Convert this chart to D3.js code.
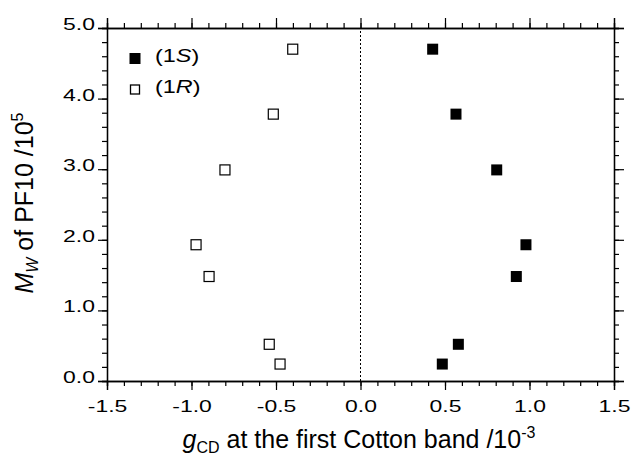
<!DOCTYPE html>
<html>
<head>
<meta charset="utf-8">
<script src="https://cdn.jsdelivr.net/npm/d3@7"></script>
<style>
  body { margin: 0; background: #fff; }
  text { font-family: "Liberation Sans", Arial, sans-serif; fill: #000; }
</style>
</head>
<body>
<div id="container"></div>
<script>
/* CONSTANTS AND GLOBALS */
const width = 632;
const height = 456;
const margin = { top: 28, right: 18, bottom: 75, left: 107 };
const stretch = 1.35; // tick labels in the figure are drawn wide

/* DATA */
const mwValues = [4.70, 3.78, 2.99, 1.93, 1.48, 0.52, 0.24];   // Mw /10^5
const gcdS = [0.427, 0.565, 0.806, 0.979, 0.922, 0.579, 0.484]; // (1S)
const gcdR = [-0.401, -0.516, -0.802, -0.973, -0.896, -0.540, -0.476]; // (1R)
const xTicks = [-1.5, -1.0, -0.5, 0.0, 0.5, 1.0, 1.5];
const yTicks = [0.0, 1.0, 2.0, 3.0, 4.0, 5.0];

/* SCALES */
const xScale = d3.scaleLinear()
  .domain([-1.5, 1.5])
  .range([margin.left, width - margin.right]);

const yScale = d3.scaleLinear()
  .domain([0, 5])
  .range([height - margin.bottom, margin.top]);

const svg = d3.select("#container")
  .append("svg")
  .attr("width", width)
  .attr("height", height);

const x0 = margin.left, x1 = width - margin.right;
const y0 = height - margin.bottom, y1 = margin.top;

// minor ticks
const xMinor = d3.range(-15, 16).map(d => d / 10);
const yMinor = d3.range(0, 26).map(d => d / 5);

// axes: all ticks outward, plain hyphen for minus
const fmt = d => d.toFixed(1);
svg.append("g")
  .attr("transform", `translate(0,${y0})`)
  .call(d3.axisBottom(xScale).tickValues(xMinor).tickSize(5).tickFormat(""));
svg.append("g")
  .attr("transform", `translate(0,${y0})`)
  .call(d3.axisBottom(xScale).tickValues(xTicks).tickSize(9).tickPadding(10)
    .tickFormat(fmt))
  .call(g => g.selectAll("text").attr("font-size", 17)
    .attr("transform", `scale(${stretch},1)`));

svg.append("g")
  .attr("transform", `translate(0,${y1})`)
  .call(d3.axisTop(xScale).tickValues(xMinor).tickSize(5).tickFormat(""));
svg.append("g")
  .attr("transform", `translate(0,${y1})`)
  .call(d3.axisTop(xScale).tickValues(xTicks).tickSize(10).tickFormat(""));

svg.append("g")
  .attr("transform", `translate(${x0},0)`)
  .call(d3.axisLeft(yScale).tickValues(yMinor).tickSize(5).tickFormat(""));
svg.append("g")
  .attr("transform", `translate(${x0},0)`)
  .call(d3.axisLeft(yScale).tickValues(yTicks).tickSize(9).tickPadding(3)
    .tickFormat(fmt))
  .call(g => g.selectAll("text").attr("font-size", 17)
    .attr("x", -12 / stretch)
    .attr("dy", 1.5)
    .attr("transform", `scale(${stretch},1)`));

svg.append("g")
  .attr("transform", `translate(${x1},0)`)
  .call(d3.axisRight(yScale).tickValues(yMinor).tickSize(5).tickFormat(""));
svg.append("g")
  .attr("transform", `translate(${x1},0)`)
  .call(d3.axisRight(yScale).tickValues(yTicks).tickSize(10).tickFormat(""));

svg.selectAll(".domain").attr("stroke", "#000").attr("stroke-width", 1.3);
svg.selectAll(".tick line").attr("stroke", "#000").attr("stroke-width", 1.2);

// zero line
svg.append("line")
  .attr("x1", xScale(0)).attr("x2", xScale(0))
  .attr("y1", y0).attr("y2", y1)
  .attr("stroke", "#000")
  .attr("stroke-width", 1)
  .attr("stroke-dasharray", "2,2");

// markers
const ms = 11;
svg.selectAll("rect.s")
  .data(gcdS)
  .join("rect")
  .attr("class", "s")
  .attr("x", d => xScale(d) - ms / 2)
  .attr("y", (d, i) => yScale(mwValues[i]) - ms / 2)
  .attr("width", ms).attr("height", ms)
  .attr("fill", "#000");

svg.selectAll("rect.r")
  .data(gcdR)
  .join("rect")
  .attr("class", "r")
  .attr("x", d => xScale(d) - (ms - 1) / 2)
  .attr("y", (d, i) => yScale(mwValues[i]) - (ms - 1) / 2)
  .attr("width", ms - 1).attr("height", ms - 1)
  .attr("fill", "#fff")
  .attr("stroke", "#000")
  .attr("stroke-width", 1.2);

// legend
const legend = svg.append("g").attr("transform", "translate(135,58.5)");
legend.append("rect").attr("x", -5.5).attr("y", -5.5).attr("width", 11).attr("height", 11).attr("fill", "#000");
legend.append("rect").attr("x", -4.5).attr("y", 26.5).attr("width", 9).attr("height", 9)
  .attr("fill", "#fff").attr("stroke", "#000").attr("stroke-width", 1.3);
[["S", 3.5], ["R", 34.5]].forEach(([lab, yy]) => {
  const t = legend.append("text")
    .attr("transform", `translate(20,${yy}) scale(1.3,1)`)
    .attr("font-size", 18);
  t.append("tspan").text("(1");
  t.append("tspan").attr("font-style", "italic").text(lab);
  t.append("tspan").text(")");
});

// x title
const xt = svg.append("text")
  .attr("x", 359)
  .attr("y", 448)
  .attr("text-anchor", "middle")
  .attr("font-size", 25);
xt.append("tspan").attr("font-style", "italic").text("g");
xt.append("tspan").attr("font-size", 16).attr("dy", 5).text("CD");
xt.append("tspan").attr("dy", -5).text(" at the first Cotton band /10");
xt.append("tspan").attr("font-size", 16).attr("dy", -10).text("-3");

// y title
const yt = svg.append("text")
  .attr("transform", `translate(33,203) rotate(-90)`)
  .attr("text-anchor", "middle")
  .attr("font-size", 25);
yt.append("tspan").attr("font-style", "italic").text("M");
yt.append("tspan").attr("font-style", "italic").attr("font-size", 16).attr("dy", 5).text("W");
yt.append("tspan").attr("dy", -5).text(" of PF10 /10");
yt.append("tspan").attr("font-size", 16).attr("dy", -10).text("5");
</script>
</body>
</html>
